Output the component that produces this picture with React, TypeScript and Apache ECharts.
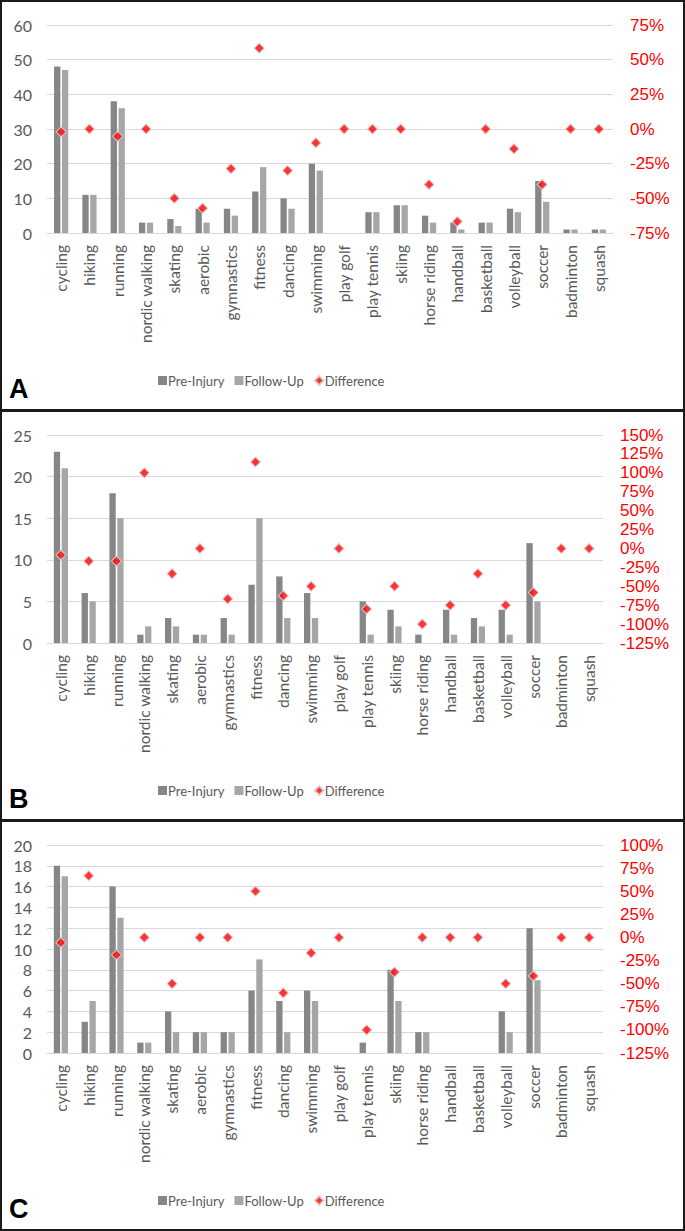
import React, { useEffect, useRef } from "react";
import * as echarts from "echarts";

const categories = [
  "cycling", "hiking", "running", "nordic walking", "skating", "aerobic",
  "gymnastics", "fitness", "dancing", "swimming", "play golf", "play tennis",
  "skiing", "horse riding", "handball", "basketball", "volleyball", "soccer",
  "badminton", "squash",
];

const preA = [48, 11, 38, 3, 4, 7, 7, 12, 10, 20, 0, 6, 8, 5, 3, 3, 7, 15, 1, 1];
const followA = [47, 11, 36, 3, 2, 3, 5, 19, 7, 18, 0, 6, 8, 3, 1, 3, 6, 9, 1, 1];
const diffA = [-2.1, 0, -5.3, 0, -50, -57.1, -28.6, 58.3, -30, -10, 0, 0, 0, -40, -66.7, 0, -14.3, -40, 0, 0];

const preB = [23, 6, 18, 1, 3, 1, 3, 7, 8, 6, 0, 5, 4, 1, 4, 3, 4, 12, 0, 0];
const followB = [21, 5, 15, 2, 2, 1, 1, 15, 3, 3, 0, 1, 2, 0, 1, 2, 1, 5, 0, 0];
const diffB = [-8.7, -16.7, -16.7, 100, -33.3, 0, -66.7, 114.3, -62.5, -50, 0, -80, -50, -100, -75, -33.3, -75, -58.3, 0, 0];

const preC = [18, 3, 16, 1, 4, 2, 2, 6, 5, 6, 0, 1, 8, 2, 0, 0, 4, 12, 0, 0];
const followC = [17, 5, 13, 1, 2, 2, 2, 9, 2, 5, 0, 0, 5, 2, 0, 0, 2, 7, 0, 0];
const diffC = [-5.6, 66.7, -18.8, 0, -50, 0, 0, 50, -60, -16.7, 0, -100, -37.5, 0, 0, 0, -50, -41.7, 0, 0];

const leftTicks = [
  { min: 0, max: 60, interval: 10 },
  { min: 0, max: 25, interval: 5 },
  { min: 0, max: 20, interval: 2 },
];
const rightTicks = [
  { min: -75, max: 75, interval: 25 },
  { min: -125, max: 150, interval: 25 },
  { min: -125, max: 100, interval: 25 },
];
const panelLetters = ["A", "B", "C"];
const seriesNames = ["Pre-Injury", "Follow-Up", "Difference"];

const panels = [
  { pre: preA, follow: followA, diff: diffA },
  { pre: preB, follow: followB, diff: diffB },
  { pre: preC, follow: followC, diff: diffC },
];

const PANEL_TOPS = [0, 410, 820];
const GRID_RIGHT = [72, 82, 82];
const PRE_COLOR = "#868686";
const FOLLOW_COLOR = "#a6a6a6";
const GRID_COLOR = "#d9d9d9";
const TEXT_COLOR = "#595959";
const LABEL_FONT = "Lato, 'Open Sans', sans-serif";

export default function App() {
  const ref = useRef<HTMLDivElement>(null);

  useEffect(() => {
    if (!ref.current) return;
    const chart = echarts.init(ref.current, undefined, { renderer: "svg" });

    const grid: any[] = [];
    const xAxis: any[] = [];
    const yAxis: any[] = [];
    const series: any[] = [];
    const legend: any[] = [];
    const graphic: any[] = [];

    panels.forEach((p, i) => {
      const top = PANEL_TOPS[i];
      grid.push({ left: 47, right: GRID_RIGHT[i], top: top + 25, height: 208 });
      xAxis.push({
        type: "category",
        gridIndex: i,
        data: categories,
        axisTick: { show: false },
        axisLine: { lineStyle: { color: GRID_COLOR } },
        axisLabel: {
          rotate: 90,
          interval: 0,
          margin: 12,
          color: TEXT_COLOR,
          fontSize: 15.5,
          fontFamily: LABEL_FONT,
        },
      });
      yAxis.push({
        type: "value",
        gridIndex: i,
        position: "left",
        min: leftTicks[i].min,
        max: leftTicks[i].max,
        interval: leftTicks[i].interval,
        axisLine: { show: false },
        axisTick: { show: false },
        axisLabel: { color: TEXT_COLOR, fontSize: 16, fontFamily: LABEL_FONT, margin: 15 },
        splitLine: { lineStyle: { color: GRID_COLOR, width: 1 } },
      });
      yAxis.push({
        type: "value",
        gridIndex: i,
        position: "right",
        min: rightTicks[i].min,
        max: rightTicks[i].max,
        interval: rightTicks[i].interval,
        axisLine: { show: false },
        axisTick: { show: false },
        axisLabel: {
          formatter: "{value}%",
          color: "#ff0000",
          fontSize: 17,
          fontFamily: "'Liberation Sans', Arial, sans-serif",
          margin: 17,
        },
        splitLine: { show: false },
      });
      series.push({
        name: seriesNames[0],
        type: "bar",
        xAxisIndex: i,
        yAxisIndex: 2 * i,
        data: p.pre,
        barWidth: 6.3,
        barGap: "25%",
        itemStyle: { color: PRE_COLOR },
      });
      series.push({
        name: seriesNames[1],
        type: "bar",
        xAxisIndex: i,
        yAxisIndex: 2 * i,
        data: p.follow,
        barWidth: 6.3,
        barGap: "25%",
        itemStyle: { color: FOLLOW_COLOR },
      });
      series.push({
        name: seriesNames[2],
        type: "scatter",
        xAxisIndex: i,
        yAxisIndex: 2 * i + 1,
        data: p.diff,
        symbol: "diamond",
        symbolSize: 10,
        z: 5,
        itemStyle: { color: "#ff0000", borderColor: "#d4d4d4", borderWidth: 1.2 },
      });
      legend.push({
        top: top + 369,
        left: 153,
        itemWidth: 9,
        itemHeight: 9,
        itemGap: 10,
        selectedMode: false,
        textStyle: { color: TEXT_COLOR, fontSize: 13, fontFamily: LABEL_FONT, padding: [0, 0, 0, -4] },
        data: [
          { name: seriesNames[0], icon: "rect" },
          { name: seriesNames[1], icon: "rect" },
          { name: seriesNames[2], icon: "diamond" },
        ],
      });
      graphic.push({
        type: "rect",
        shape: { x: 1, y: top + 1, width: 683, height: 409 },
        style: { fill: "none", stroke: "#1a1a1a", lineWidth: 2 },
        silent: true,
      });
      graphic.push({
        type: "text",
        x: 9,
        y: top + 389,
        style: {
          text: panelLetters[i],
          font: "bold 27px 'Liberation Sans', Arial, sans-serif",
          fill: "#000",
          textVerticalAlign: "middle",
        },
        silent: true,
      });
    });

    chart.setOption({
      animation: false,
      backgroundColor: "#ffffff",
      grid,
      xAxis,
      yAxis,
      series,
      legend,
      graphic,
    });

    return () => chart.dispose();
  }, []);

  return (
    <div
      ref={ref}
      style={{ position: "absolute", left: 0, top: 0, width: 685, height: 1231, background: "#fff" }}
    />
  );
}
